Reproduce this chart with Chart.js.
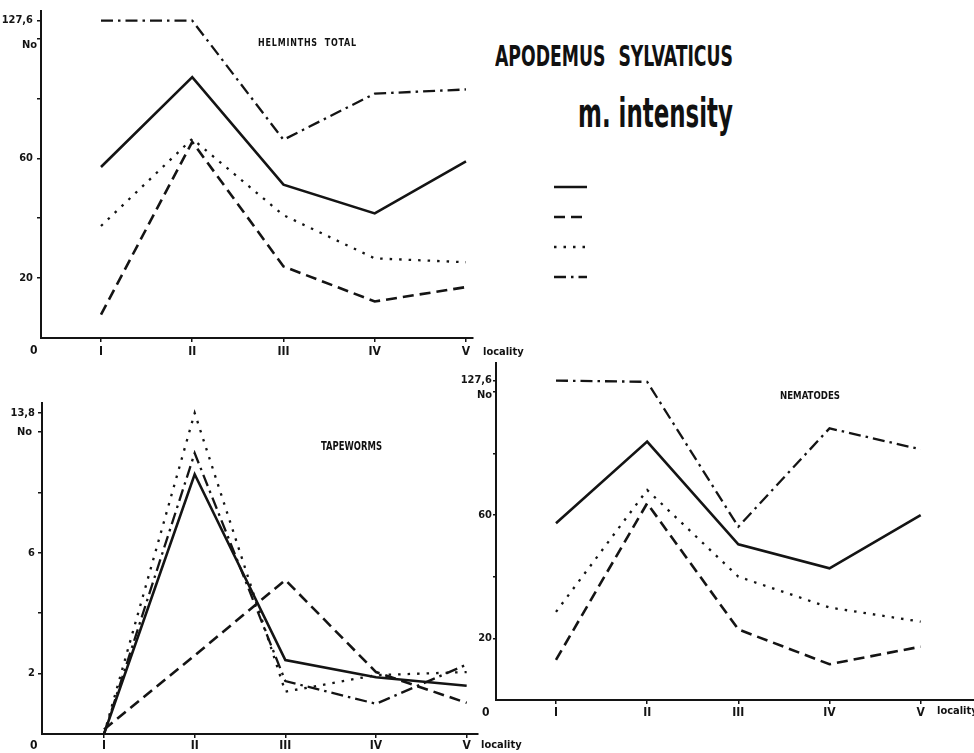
<!DOCTYPE html>
<html>
<head>
<meta charset="utf-8">
<script src="https://cdn.jsdelivr.net/npm/chart.js@4/dist/chart.umd.min.js"></script>
<style>
html, body { margin: 0; padding: 0; background: #fff; }
#wrap { position: relative; width: 974px; height: 753px; overflow: hidden; background: #fff; }
canvas { position: absolute; }
.t { position: absolute; font-family: 'Liberation Sans Narrow', 'DejaVu Sans Condensed', 'Liberation Sans', sans-serif;
     font-weight: bold; color: #111; white-space: pre; line-height: 1; transform-origin: left top; }
</style>
</head>
<body>
<div id="wrap">
  <canvas id="c1" width="490" height="370" style="left:0px;top:0px"></canvas>
  <canvas id="c2" width="480" height="383" style="left:0px;top:370px"></canvas>
  <canvas id="c3" width="519" height="403" style="left:455px;top:350px"></canvas>
  <canvas id="cl" width="120" height="170" style="left:536px;top:163px"></canvas>

  <div class="t" data-w="238" style="left:495px;top:43px;font-size:28px;word-spacing:10px">APODEMUS SYLVATICUS</div>
  <div class="t" data-w="155" style="left:578px;top:93px;font-size:41px">m. intensity</div>

  <div class="t" data-w="99" style="left:258px;top:37px;font-size:11px;letter-spacing:1px;word-spacing:4px">HELMINTHS TOTAL</div>
  <div class="t" data-w="61" style="left:321px;top:440px;font-size:12px">TAPEWORMS</div>
  <div class="t" data-w="60" style="left:780px;top:390px;font-size:11px">NEMATODES</div>

  <div class="t" style="left:22px;top:39px;font-size:11px">No</div>
  <div class="t" style="left:30px;top:344px;font-size:12px">0</div>
  <div class="t" style="left:483px;top:346px;font-size:11px">locality</div>

  <div class="t" style="left:17px;top:426px;font-size:11px">No</div>
  <div class="t" style="left:30px;top:739px;font-size:12px">0</div>
  <div class="t" style="left:481px;top:739px;font-size:11px">locality</div>

  <div class="t" style="left:477px;top:389px;font-size:11px">No</div>
  <div class="t" style="left:482px;top:706px;font-size:12px">0</div>
  <div class="t" style="left:937px;top:705px;font-size:11px">locality</div>
</div>

<script>
// ---------- data ----------
const localities = ['I', 'II', 'III', 'IV', 'V'];

// HELMINTHS TOTAL (mean intensity)
const helmSolid   = [57.1, 87.1, 51.2, 41.6, 59.0];
const helmDashed  = [7.8, 65.5, 23.9, 12.2, 17.0];
const helmDotted  = [37.4, 66.5, 41.0, 26.6, 25.3];
const helmDashDot = [127.6, 127.6, 66.2, 81.6, 83.0];
const helmYTicks  = [20, 40, 60, 80, 100, 127.6];
const helmYLabels = ['20', '', '60', '', '', '127,6'];

// TAPEWORMS
const tapeSolid   = [0, 8.6, 2.45, 1.88, 1.6];
const tapeDashed  = [0.15, 2.6, 5.1, 2.05, 1.03];
const tapeDotted  = [0, 13.8, 1.4, 1.95, 2.05];
const tapeDashDot = [0, 9.3, 1.75, 1.0, 2.3];
const tapeYTicks  = [2, 4, 6, 8, 10, 13.8];
const tapeYLabels = ['2', '', '6', '', '', '13,8'];

// NEMATODES
const nemSolid   = [57.3, 83.8, 50.5, 42.7, 60.0];
const nemDashed  = [13.0, 63.8, 22.9, 11.6, 17.3];
const nemDotted  = [28.6, 68.1, 40.0, 30.0, 25.4];
const nemDashDot = [127.6, 124.5, 56.2, 88.1, 81.3];
const nemYTicks  = [20, 40, 60, 80, 100, 127.6];
const nemYLabels = ['20', '', '60', '', '', '127,6'];

// ---------- styles ----------
const INK = '#141414';
const FONT = "'Liberation Sans Narrow', 'DejaVu Sans Condensed', 'Liberation Sans', sans-serif";
const LINE_STYLES = [
  { width: 2.6, dash: [] },
  { width: 2.6, dash: [11, 6] },
  { width: 2.3, dash: [2.5, 7] },
  { width: 2.3, dash: [12, 5, 2.5, 5] }
];
Chart.defaults.font.family = FONT;
Chart.defaults.font.weight = 'bold';
Chart.defaults.color = INK;

// broken y axis: values above "from" are compressed so that "value" is drawn at "shownAt"
const BREAKS = {
  c1: { from: 100, value: 127.6, shownAt: 106 },
  c2: { from: 10, value: 13.8, shownAt: 10.63 },
  c3: { from: 100, value: 127.6, shownAt: 103.6 }
};
class BrokenLinearScale extends Chart.LinearScale {
  getPixelForValue(value) {
    const b = BREAKS[this.chart.canvas.id];
    let v = value;
    if (b && v > b.from) v = b.from + (v - b.from) * (b.shownAt - b.from) / (b.value - b.from);
    return super.getPixelForValue(v);
  }
}
BrokenLinearScale.id = 'brokenLinear';
BrokenLinearScale.defaults = Chart.LinearScale.defaults;
Chart.register(BrokenLinearScale);

function makePanel(id, cfg) {
  const datasets = cfg.series.map((vals, k) => ({
    label: '',
    data: vals.map((v, i) => ({ x: i + 1, y: v })),
    borderColor: INK,
    borderWidth: LINE_STYLES[k].width,
    borderDash: LINE_STYLES[k].dash,
    borderCapStyle: 'butt',
    pointRadius: 0,
    tension: 0,
    fill: false
  }));
  return new Chart(document.getElementById(id), {
    type: 'line',
    data: { datasets },
    options: {
      responsive: false,
      animation: false,
      events: [],
      layout: { padding: cfg.padding },
      plugins: { legend: { display: false }, tooltip: { enabled: false } },
      scales: {
        x: {
          type: 'linear', min: cfg.xMin, max: cfg.xMax, bounds: 'data',
          afterFit: s => { s.height = cfg.xAxisH; },
          afterBuildTicks: s => { s.ticks = localities.map((_, i) => ({ value: i + 1 })); },
          ticks: { callback: (v, i) => localities[i], autoSkip: false, maxRotation: 0,
                   padding: cfg.xPad, font: { size: 12, weight: 'bold' }, color: INK },
          grid: { display: true, drawOnChartArea: false, drawTicks: true, tickLength: 4, color: INK, lineWidth: 1.5 },
          border: { display: true, color: INK, width: 2 }
        },
        y: {
          type: 'brokenLinear', min: 0, max: cfg.yMax, bounds: 'data',
          afterFit: s => { s.width = cfg.yAxisW; },
          afterBuildTicks: s => { s.ticks = cfg.yTicks.map(v => ({ value: v })); },
          ticks: { callback: (v, i) => cfg.yLabels[i], autoSkip: false,
                   padding: cfg.yPad, font: { size: 11, weight: 'bold' }, color: INK },
          grid: { display: true, drawOnChartArea: false, drawTicks: true, tickLength: cfg.yTickLen, color: INK, lineWidth: 1.5 },
          border: { display: true, color: INK, width: 2 }
        }
      }
    }
  });
}

makePanel('c1', {
  series: [helmSolid, helmDashed, helmDotted, helmDashDot],
  yTicks: helmYTicks, yLabels: helmYLabels,
  padding: { top: 10, right: 17, left: 0, bottom: 0 },
  yAxisW: 41, xAxisH: 32, xMin: 0.3425, xMax: 5.077, yMax: 109.33,
  xPad: 3, yPad: 4, yTickLen: 4
});
makePanel('c2', {
  series: [tapeSolid, tapeDashed, tapeDotted, tapeDashDot],
  yTicks: tapeYTicks, yLabels: tapeYLabels,
  padding: { top: 33, right: 2, left: 0, bottom: 0 },
  yAxisW: 42, xAxisH: 19, xMin: 0.316, xMax: 5.125, yMax: 10.96,
  xPad: 1, yPad: 3, yTickLen: 4
});
makePanel('c3', {
  series: [nemSolid, nemDashed, nemDotted, nemDashDot],
  yTicks: nemYTicks, yLabels: nemYLabels,
  padding: { top: 13, right: 0, left: 0, bottom: 0 },
  yAxisW: 41, xAxisH: 53, xMin: 0.342, xMax: 5.585, yMax: 109.3,
  xPad: 2, yPad: 1, yTickLen: 3
});

// legend (line samples only, as in the original)
new Chart(document.getElementById('cl'), {
  type: 'line',
  data: { datasets: LINE_STYLES.map(st => ({ label: '', data: [], borderColor: INK, borderWidth: st.width, borderDash: st.dash })) },
  options: {
    responsive: false, animation: false, events: [],
    layout: { padding: 0 },
    scales: { x: { display: false }, y: { display: false } },
    plugins: {
      tooltip: { enabled: false },
      legend: {
        display: true, position: 'left', align: 'start',
        labels: {
          usePointStyle: true, pointStyleWidth: 33, boxHeight: 12, padding: 18, font: { size: 12 },
          generateLabels: chart => chart.data.datasets.map((ds, i) => ({
            text: '', fillStyle: 'rgba(0,0,0,0)', strokeStyle: ds.borderColor, lineWidth: ds.borderWidth,
            lineDash: ds.borderDash, lineCap: 'butt', pointStyle: 'line', hidden: false, datasetIndex: i
          }))
        }
      }
    }
  }
});

// condense titles to the widths seen in the original
document.querySelectorAll('[data-w]').forEach(el => {
  const w = el.getBoundingClientRect().width;
  if (w > 0) el.style.transform = 'scaleX(' + (parseFloat(el.dataset.w) / w) + ')';
});
</script>
</body>
</html>
